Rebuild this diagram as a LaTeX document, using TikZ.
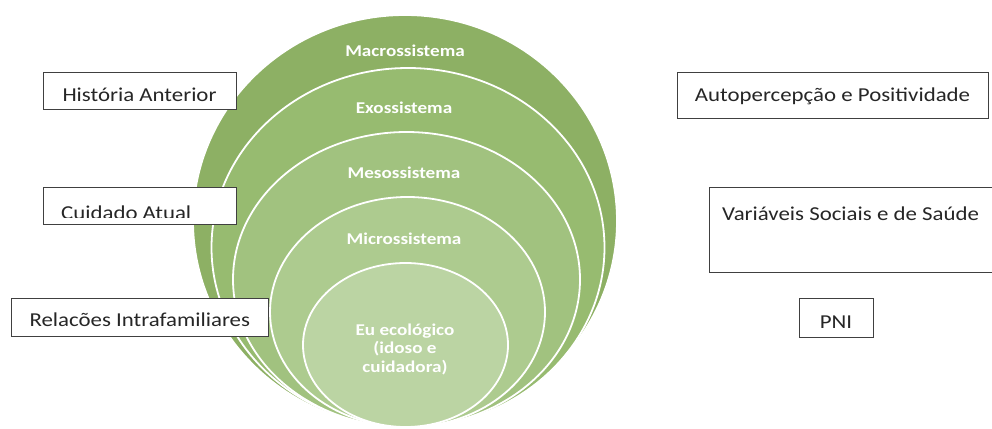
\documentclass[tikz,border=0pt]{standalone}
\usepackage{fontspec}
\setmainfont{Carlito}[FakeStretch=1.16]
\definecolor{macroGreen}{RGB}{141,176,100}
\definecolor{exoGreen}{RGB}{151,187,112}
\definecolor{mesoGreen}{RGB}{161,194,127}
\definecolor{microGreen}{RGB}{173,203,143}
\definecolor{euGreen}{RGB}{187,212,163}
\begin{document}
\begin{tikzpicture}[x=1pt,y=-1pt]

    \tikzset{
      ring/.style={
        draw=white,
        line width=1.8pt,
      },
      ringlabel/.style={
        text=white,
        anchor=base,
        align=center,
        inner sep=0pt,
        font=\bfseries\fontsize{16.5}{18.5}\selectfont,
      },
      factor/.style={
        draw=black!75,
        line width=0.9pt,
        fill=white,
        text=black!85,
        anchor=base,
        inner sep=0pt,
        font=\fontsize{19.7}{22}\selectfont,
      },
    }
    \useasboundingbox (0,0) rectangle (992,428);
    % nested systems
    \path[ring, fill=macroGreen] (405,221) ellipse [x radius=212, y radius=206];
    \path[ring, fill=exoGreen] (408,247.5) ellipse [x radius=196.5, y radius=179.5];
    \path[ring, fill=mesoGreen] (406.5,279.5) ellipse [x radius=173.5, y radius=147.5];
    \path[ring, fill=microGreen] (407.5,312) ellipse [x radius=137.5, y radius=115];
    \path[ring, fill=euGreen] (405.5,345) ellipse [x radius=102.5, y radius=82];
	\node[ringlabel] (macro) at (405,56.7) {Macrossistema};
	\node[ringlabel] (exo) at (404,113) {Exossistema};
	\node[ringlabel] (meso) at (404,178) {Mesossistema};
	\node[ringlabel] (micro) at (404,244) {Microssistema};
	\node[ringlabel] (eu) at (405,372) {Eu ecológico\\(idoso e\\cuidadora)};
    % factors on the left
	\node[factor, text height=29.3pt, text depth=8.4pt, minimum width=193pt] (hist) at (139.5,101.3) {História Anterior};
	\node[factor, text height=29pt, text depth=8pt, minimum width=193pt] (cuid) at (139.5,216.7) {};
    \begin{scope}
    \clip (cuid.north west) rectangle ([yshift=8pt]cuid.south east);
	\node[factor, draw=none, fill=none, anchor=base west] (cuidtext) at (60.7,219.5) {Cuidado Atual};
    \end{scope}
	\node[factor, text height=28.4pt, text depth=10pt, minimum width=256.3pt] (rel) at (139.8,326.7) {Relacões Intrafamiliares};
    % factors on the right
	\node[factor, text height=29.7pt, text depth=16.3pt, minimum width=311pt] (auto) at (832.5,101.7) {Autopercepção e Positividade};
	\node[factor, text height=33pt, text depth=52pt, minimum width=283pt] (var) at (850.5,220) {Variáveis Sociais e de Saúde};
	\node[factor, text height=30pt, text depth=9pt, minimum width=74pt] (pni) at (836,328) {PNI};

\end{tikzpicture}
\end{document}
